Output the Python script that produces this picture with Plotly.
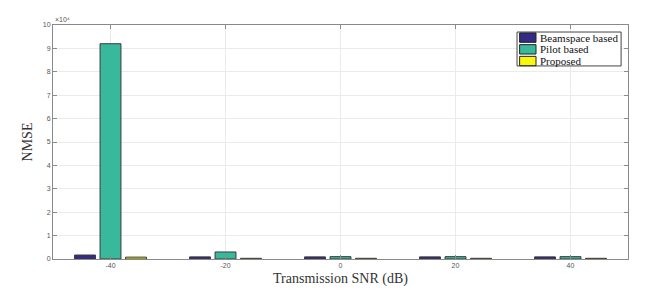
import plotly.graph_objects as go

snr = [-40, -20, 0, 20, 40]
beamspace = [0.17, 0.09, 0.09, 0.09, 0.09]
pilot = [9.2, 0.3, 0.1, 0.1, 0.1]
proposed = [0.08, 0.03, 0.03, 0.03, 0.03]
series_names = ["Beamspace based", "Pilot based", "Proposed"]
colors = ["#342B86", "#38B99C", "#F8F80F"]
y_ticks = list(range(0, 11))

fig = go.Figure()
for name, vals, col in zip(series_names, [beamspace, pilot, proposed], colors):
    fig.add_trace(go.Bar(x=snr, y=vals, name=name, showlegend=False,
                         marker=dict(color=col, line=dict(color="#3a3a3a", width=1))))

axis_common = dict(showline=True, linecolor="#8a8a8a", linewidth=1, mirror="ticks",
                   ticks="inside", ticklen=4, tickcolor="#8a8a8a", automargin=False,
                   showgrid=True, gridcolor="#ebebeb", gridwidth=1, zeroline=False,
                   tickfont=dict(family="Liberation Sans", size=7, color="#555"))

serif = "Liberation Serif"

# Legend drawn as a boxed key (MATLAB style) in paper coordinates
shapes = [dict(type="rect", xref="paper", yref="paper", x0=0.807, x1=0.988, y0=0.825, y1=0.970,
               fillcolor="white", line=dict(color="#444", width=1), layer="above")]
annotations = []
row_y = [0.946, 0.896, 0.846]
for i, (name, col) in enumerate(zip(series_names, colors)):
    yc = row_y[i]
    shapes.append(dict(type="rect", xref="paper", yref="paper", x0=0.8115, x1=0.840,
                       y0=yc - 0.020, y1=yc + 0.020, fillcolor=col,
                       line=dict(color="#222", width=1), layer="above"))
    annotations.append(dict(text=name, xref="paper", yref="paper", x=0.843, y=yc,
                            xanchor="left", yanchor="middle", showarrow=False,
                            font=dict(family=serif, size=11, color="#111")))

annotations.append(dict(text="\u00d710\u2074", xref="paper", yref="paper", x=0.0, y=1.0,
                        xanchor="left", yanchor="bottom", showarrow=False,
                        font=dict(family="Liberation Sans", size=7, color="#555")))

fig.update_layout(
    width=658, height=294,
    margin=dict(l=53, r=30, t=25, b=35, autoexpand=False),
    plot_bgcolor="white", paper_bgcolor="white",
    barmode="group", bargap=0.335, bargroupgap=0.18,
    xaxis=dict(range=[-50, 50], tickvals=snr, ticktext=[str(v) for v in snr],
               title=dict(text="Transmission SNR (dB)", standoff=4,
                          font=dict(family=serif, size=14, color="#333")),
               **axis_common),
    yaxis=dict(range=[0, 10], tickvals=y_ticks, ticktext=[str(v) for v in y_ticks],
               title=dict(text="NMSE", standoff=6,
                          font=dict(family=serif, size=14, color="#333")),
               **axis_common),
    shapes=shapes,
    annotations=annotations,
)

fig.write_html("out.html")
